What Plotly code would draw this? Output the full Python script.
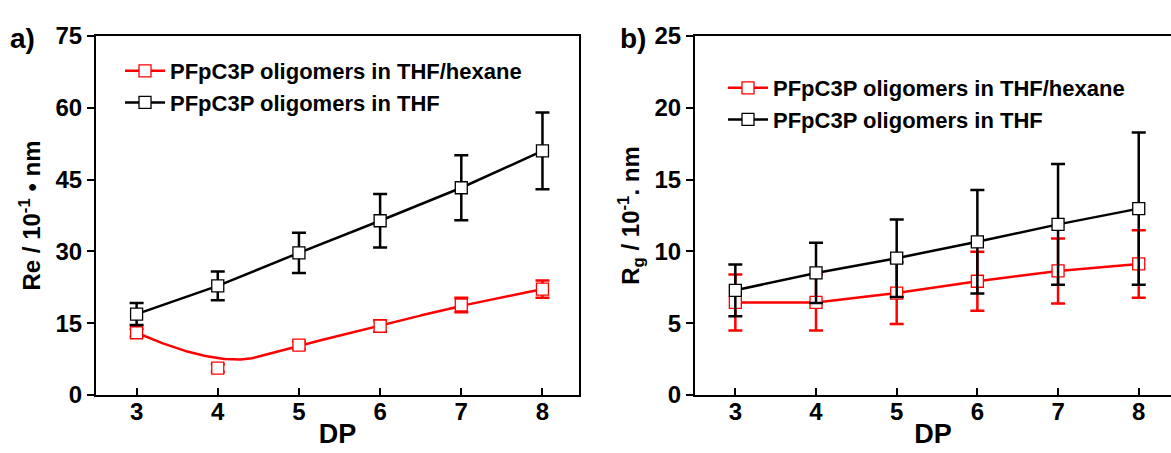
import numpy as np
import plotly.graph_objects as go

dp = [3, 4, 5, 6, 7, 8]

# Panel a: Re (10^-1 nm)
re_hex = [13.0, 5.6, 10.4, 14.4, 18.8, 22.1]
re_hex_err = [0.8, 0.8, 0.8, 1.2, 1.5, 1.8]
re_thf = [16.9, 22.8, 29.7, 36.4, 43.3, 51.0]
re_thf_err = [2.3, 3.0, 4.2, 5.6, 6.8, 8.0]

# Panel b: Rg (10^-1 nm)
rg_hex = [6.45, 6.45, 7.1, 7.92, 8.64, 9.13]
rg_hex_err = [1.95, 1.95, 2.15, 2.05, 2.26, 2.35]
rg_thf = [7.29, 8.5, 9.53, 10.67, 11.88, 12.98]
rg_thf_err = [1.8, 2.1, 2.7, 3.6, 4.2, 5.3]

name_hex = "PFpC3P oligomers in THF/hexane"
name_thf = "PFpC3P oligomers in THF"

RED = "#ff0000"
BLACK = "#000000"
FONT = "Liberation Sans"


def bspline(px, py, k=2, n=300):
    """Clamped B-spline using the data points as control points."""
    px = np.asarray(px, float)
    py = np.asarray(py, float)
    m = len(px)
    knots = np.concatenate([[0] * k, np.arange(m - k + 1), [m - k] * k]).astype(float)
    ts = np.linspace(0, m - k, n)
    ts[-1] -= 1e-9

    def basis(i, p, t):
        if p == 0:
            return 1.0 if knots[i] <= t < knots[i + 1] else 0.0
        a = 0.0
        d1 = knots[i + p] - knots[i]
        if d1 > 0:
            a += (t - knots[i]) / d1 * basis(i, p - 1, t)
        d2 = knots[i + p + 1] - knots[i + 1]
        if d2 > 0:
            a += (knots[i + p + 1] - t) / d2 * basis(i + 1, p - 1, t)
        return a

    xs, ys = [], []
    for t in ts:
        b = np.array([basis(i, k, t) for i in range(m)])
        xs.append(float(b @ px))
        ys.append(float(b @ py))
    return xs, ys


marker_red = dict(symbol="square", size=12, color="white", line=dict(color=RED, width=1.3))
marker_blk = dict(symbol="square", size=12, color="white", line=dict(color=BLACK, width=1.3))

fig = go.Figure()

# ---- Panel a ----
cx, cy = bspline(dp, re_hex)
fig.add_trace(go.Scatter(x=cx, y=cy, mode="lines", line=dict(color=RED, width=2.5),
                         showlegend=False, xaxis="x", yaxis="y", hoverinfo="skip"))
fig.add_trace(go.Scatter(x=dp, y=re_hex, mode="markers", marker=marker_red,
                         error_y=dict(type="data", array=re_hex_err, color=RED, thickness=2.5, width=7),
                         showlegend=False, xaxis="x", yaxis="y"))
fig.add_trace(go.Scatter(x=[None], y=[None], mode="lines+markers", name=name_hex,
                         line=dict(color=RED, width=2.5), marker=marker_red,
                         legend="legend", xaxis="x", yaxis="y"))
fig.add_trace(go.Scatter(x=dp, y=re_thf, mode="lines+markers", name=name_thf,
                         line=dict(color=BLACK, width=2.5), marker=marker_blk,
                         error_y=dict(type="data", array=re_thf_err, color=BLACK, thickness=2.5, width=7),
                         legend="legend", xaxis="x", yaxis="y"))

# ---- Panel b ----
fig.add_trace(go.Scatter(x=dp, y=rg_hex, mode="lines+markers", name=name_hex,
                         line=dict(color=RED, width=2.5), marker=marker_red,
                         error_y=dict(type="data", array=rg_hex_err, color=RED, thickness=2.5, width=7),
                         legend="legend2", xaxis="x2", yaxis="y2"))
fig.add_trace(go.Scatter(x=dp, y=rg_thf, mode="lines+markers", name=name_thf,
                         line=dict(color=BLACK, width=2.5), marker=marker_blk,
                         error_y=dict(type="data", array=rg_thf_err, color=BLACK, thickness=2.5, width=7),
                         legend="legend2", xaxis="x2", yaxis="y2"))

W, H = 1171, 453
T, B = 36, 58
PH = H - T - B


def py(pix):
    """Pixel row -> paper y."""
    return 1 - (pix - T) / PH


tickfont = dict(family=FONT, size=24, color="black", weight="bold")
titlefont = dict(family=FONT, size=27, color="black", weight="bold")
ytitlefont = dict(family=FONT, size=24, color="black", weight="bold")
legfont = dict(family=FONT, size=22, color="black", weight="bold")

xcommon = dict(tickvals=dp, ticks="inside", ticklen=7, tickwidth=2, tickcolor="black",
               showline=True, linewidth=2, linecolor="black", mirror=True,
               showgrid=False, zeroline=False, tickfont=tickfont, ticklabelstandoff=-6,
               title=dict(text="DP", font=titlefont, standoff=0), automargin=False)
ycommon = dict(ticks="outside", ticklen=7, tickwidth=2, tickcolor="black",
               showline=True, linewidth=2, linecolor="black", mirror=True,
               showgrid=False, zeroline=False, tickfont=tickfont, automargin=False)

fig.update_layout(
    width=W, height=H,
    margin=dict(l=0, r=0, t=T, b=B),
    paper_bgcolor="white", plot_bgcolor="white",
    xaxis=dict(domain=[96 / W, 579 / W], range=[2.5, 8.45], anchor="y", **xcommon),
    yaxis=dict(range=[0, 75], tickvals=[0, 15, 30, 45, 60, 75], anchor="x",
               title=dict(text="Re / 10<sup>-1</sup> • nm", font=ytitlefont, standoff=8),
               **ycommon),
    xaxis2=dict(domain=[695 / W, 1.0], range=[2.5, 8.4], anchor="y2", **xcommon),
    yaxis2=dict(range=[0, 25], tickvals=[0, 5, 10, 15, 20, 25], anchor="x2",
                title=dict(text="R<sub>g</sub> / 10<sup>-1</sup>. nm", font=ytitlefont, standoff=8),
                **ycommon),
    legend=dict(x=120 / W, y=py(87), xanchor="left", yanchor="middle",
                bgcolor="rgba(0,0,0,0)", font=legfont, itemwidth=40, tracegroupgap=0),
    legend2=dict(x=723 / W, y=py(104), xanchor="left", yanchor="middle",
                 bgcolor="rgba(0,0,0,0)", font=legfont, itemwidth=40, tracegroupgap=0),
    annotations=[
        dict(text="a)", x=8 / W, y=py(38), xref="paper", yref="paper", xanchor="left", yanchor="middle",
             showarrow=False, font=dict(family=FONT, size=28, color="black", weight="bold")),
        dict(text="b)", x=618 / W, y=py(38), xref="paper", yref="paper", xanchor="left", yanchor="middle",
             showarrow=False, font=dict(family=FONT, size=28, color="black", weight="bold")),
    ],
)

fig.write_html("out.html", config={"displayModeBar": False},
               post_script="document.body.style.margin='0';document.body.style.overflow='hidden';")
